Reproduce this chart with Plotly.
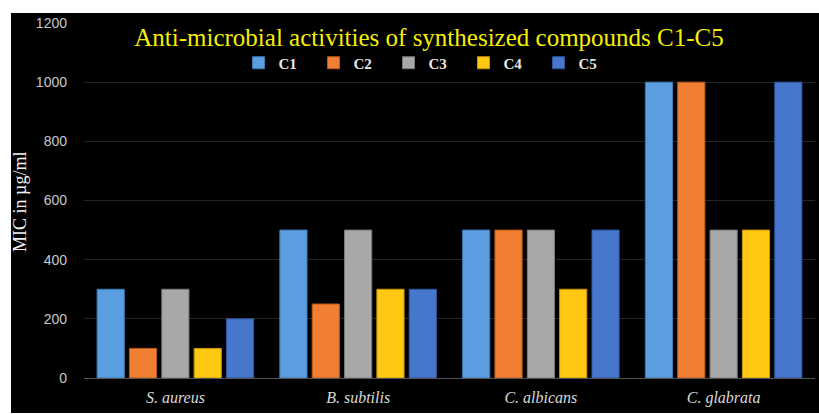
import plotly.graph_objects as go

# MIC values (µg/ml) per organism for each synthesized compound
organisms = ["S. aureus", "B. subtilis", "C. albicans", "C. glabrata"]
series_names = ["C1", "C2", "C3", "C4", "C5"]
c1 = [300, 500, 500, 1000]
c2 = [100, 250, 500, 1000]
c3 = [300, 500, 500, 500]
c4 = [100, 300, 300, 500]
c5 = [200, 300, 500, 1000]
y_ticks = [0, 200, 400, 600, 800, 1000, 1200]

series_values = [c1, c2, c3, c4, c5]
fill_colors = ["#5A9EDF", "#F07F33", "#A8A8A8", "#FFC812", "#4777CC"]
edge_colors = ["#3D79B5", "#B85A1A", "#7A7A7A", "#C99400", "#2F55A0"]

W, H = 819, 414
ML, MR, MT, MB = 84, 4, 23, 36
PW, PH = W - ML - MR, H - MT - MB

fig = go.Figure()
for name, vals, fc, ec in zip(series_names, series_values, fill_colors, edge_colors):
    fig.add_trace(go.Bar(
        name=name, x=organisms, y=vals,
        marker=dict(color=fc, line=dict(color=ec, width=1)),
    ))

def px_x(px):
    return (px - ML) / PW

def px_y(py):
    return (H - MB - py) / PH

# dark panel behind the whole chart
fig.add_shape(type="rect", xref="paper", yref="paper",
              x0=px_x(11), x1=px_x(819), y0=px_y(413), y1=px_y(13),
              fillcolor="black", line_width=0, layer="below")

fig.add_annotation(text="MIC in µg/ml", textangle=-90, showarrow=False,
                   xref="paper", yref="paper", x=px_x(20), y=px_y(202),
                   xanchor="center", yanchor="middle",
                   font=dict(family="Liberation Serif", size=18, color="#F2F2F2"))

fig.update_layout(
    width=W, height=H,
    margin=dict(l=ML, r=MR, t=MT, b=MB),
    paper_bgcolor="white", plot_bgcolor="black",
    barmode="group", bargap=0.115, bargroupgap=0.16,
    title=dict(text="Anti-microbial activities of synthesized compounds C1-C5",
               x=429 / W, xanchor="center",
               y=1 - 37 / H, yanchor="middle",
               font=dict(family="Liberation Serif", size=25, color="#F5F000")),
    legend=dict(orientation="h", x=px_x(426), xanchor="center",
                y=px_y(63), yanchor="middle",
                bgcolor="rgba(0,0,0,0)",
                font=dict(family="Liberation Serif", size=15, color="#E6E6E6",
                          weight="bold"),
                entrywidth=30, entrywidthmode="pixels", traceorder="normal"),
    showlegend=True,
    xaxis=dict(tickvals=organisms,
               ticktext=["<i>" + o + "</i>" for o in organisms],
               tickfont=dict(family="Liberation Serif", size=16, color="#D9D9D9"),
               showgrid=False, showline=False, ticks="", ticklabelstandoff=8),
    yaxis=dict(range=[0, 1200], tickvals=y_ticks,
               tickfont=dict(family="Liberation Sans", size=14, color="#C8C8C8"),
               showgrid=True, gridcolor="#242424", gridwidth=1,
               zeroline=True, zerolinecolor="#555555", zerolinewidth=1,
               ticks="", ticklabelstandoff=16),
)

fig.write_html("out.html")
